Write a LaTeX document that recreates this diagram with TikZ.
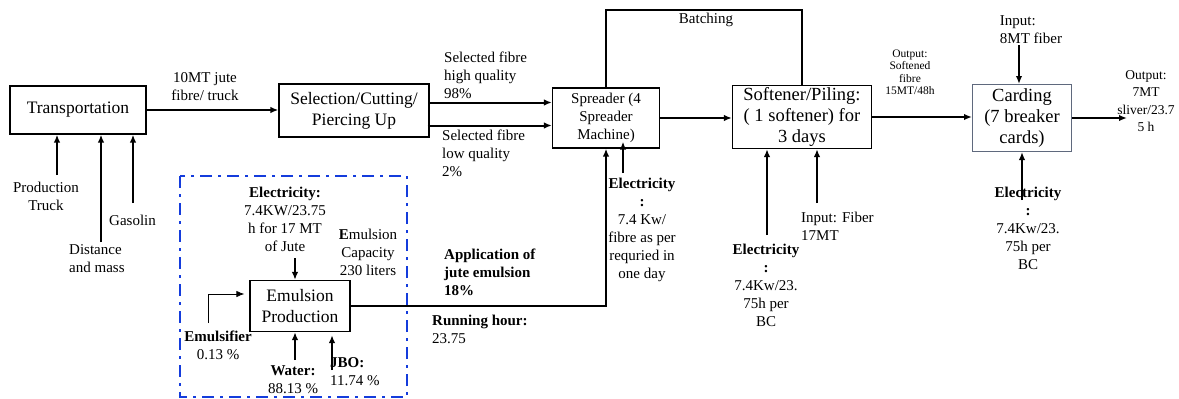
\documentclass[tikz,border=0pt]{standalone}
\usepackage{fontspec}
\setmainfont{Liberation Serif}
\usepackage{tikz}
\usetikzlibrary{arrows.meta, positioning, calc}

\definecolor{frameblue}{RGB}{20,60,220}
\definecolor{cardgray}{RGB}{95,105,125}

\begin{document}
\begin{tikzpicture}[
    x=1pt, y=-1pt,
    >={Latex[length=8pt,width=6.5pt]},
    box/.style={rectangle, draw, line width=1.3pt, align=center, inner sep=1pt, font=\fontsize{17.5}{21}\selectfont},
    note/.style={align=center, inner sep=0pt, font=\fontsize{15}{18}\selectfont},
    tinynote/.style={align=center, inner sep=0pt, font=\fontsize{11.5}{12.5}\selectfont},
    flow/.style={->, line width=2pt}
]
\useasboundingbox (0,0) rectangle (1179,399);

% Process chain
\node[box, minimum width=136pt, minimum height=48pt] (transport) at (78,110) {Transportation};
\node[box, minimum width=150pt, minimum height=53pt] (select) at (354,110.5) {Selection/Cutting/\\Piercing Up};
\node[box, minimum width=107pt, minimum height=60pt, font=\fontsize{15}{18}\selectfont] (spreader) at (606,118) {Spreader (4\\Spreader\\Machine)};
\node[box, minimum width=139pt, minimum height=63pt, font=\fontsize{18.5}{21}\selectfont] (softener) at (802,117) {Softener/Piling:\\( 1 softener) for\\3 days};
\node[box, draw=cardgray, line width=1pt, minimum width=99pt, minimum height=67pt, font=\fontsize{18.5}{21}\selectfont] (carding) at (1022,118) {Carding\\(7 breaker\\cards)};

\draw[flow] (transport.east) -- (transport.east -| select.west);
\node[note] (truckload) at (205,87) {10MT jute\\fibre/ truck};

\draw[flow] ([yshift=8pt]select.east) -- ([yshift=8pt]select.east -| spreader.west);
\draw[flow] ([xshift=-2pt,yshift=-15pt]select.east) -- ([yshift=-15pt]select.east -| spreader.west);
\node[note, align=left, anchor=west] (highq) at (444,75) {Selected fibre\\high quality\\98\%};
\node[note, align=left, anchor=west] (lowq) at (442,153) {Selected fibre\\low quality\\2\%};

\draw[flow] (spreader.east) -- (spreader.east -| softener.west);
\draw[line width=2pt] (spreader.north) -- (spreader.north |- 0,10) -| (softener.north);
\node[note] (batching) at (706,20) {Batching};

\draw[flow] (softener.east) -- (softener.east -| carding.west);
\node[tinynote] (softout) at (910,72) {Output:\\Softened\\fibre\\15MT/48h};

\coordinate (card_out) at (1127,118);
\draw[flow] (carding.east) -- (card_out);
\node[note, font=\fontsize{13.5}{17.5}\selectfont] (sliverout) at (1146,101) {Output:\\7MT\\sliver/23.7\\5 h};

% Inputs of the transport
\coordinate (truck_in) at (57,175);
\coordinate (dist_in) at (101,242);
\coordinate (gas_in) at (133,203);
\draw[flow] (truck_in) -- (truck_in |- transport.south);
\draw[flow] (dist_in) -- (dist_in |- transport.south);
\draw[flow] (gas_in) -- (gas_in |- transport.south);
\node[note] (truck) at (46,196) {Production\\Truck};
\node[note, align=left, anchor=west] (dist) at (69,259) {Distance\\and mass};
\node[note, anchor=west] (gas) at (109,220) {Gasolin};

% Inputs of spreader, softener and carding
\coordinate (spread_elec) at (623,173);
\draw[flow] (spread_elec) -- ([xshift=17pt,yshift=7pt]spreader.south);
\node[note] (spreadelec) at (642,230) {\textbf{Electricity}\\\textbf{:}\\7.4 Kw/\\fibre as per\\requried in\\one day};

\coordinate (soft_elec) at (767,235);
\coordinate (soft_in) at (817,203);
\draw[flow] (soft_elec) -- (soft_elec |- softener.south);
\draw[flow] (soft_in) -- (soft_in |- softener.south);
\node[note] (softelec) at (766,285) {\textbf{Electricity}\\\textbf{:}\\7.4Kw/23.\\75h per\\BC};
\node[note, align=left, anchor=west] (softfiber) at (801,226) {Input: Fiber\\17MT};

\coordinate (card_in) at (1019,45);
\coordinate (card_elec) at (1022,200);
\draw[flow] (card_in) -- (card_in |- carding.north);
\draw[flow] (card_elec) -- (card_elec |- carding.south);
\node[note, align=left] (cardfiber) at (1031,30) {Input:\\8MT fiber};
\node[note] (cardelec) at (1028,228) {\textbf{Electricity}\\\textbf{:}\\7.4Kw/23.\\75h per\\BC};

% Emulsion unit
\draw[frameblue, line width=2.6pt, dash pattern=on 12pt off 6pt on 3pt off 6pt] (180,176) rectangle (407,397);
\node[box, minimum width=100pt, minimum height=51pt] (emul) at (300,306) {Emulsion\\Production};

\draw[flow] (emul.east) -| (spreader.south);
\node[note, align=left, anchor=west] (apply) at (444,272) {\textbf{Application of}\\\textbf{jute emulsion}\\\textbf{18\%}};
\node[note, align=left, anchor=west] (runhour) at (432,329) {\textbf{Running hour:}\\23.75};

\coordinate (emul_elec) at (295,258);
\coordinate (emulsifier_in) at (208,323);
\coordinate (water_in) at (295,360);
\coordinate (jbo_in) at (332,370);
\draw[flow] (emul_elec) -- (emul_elec |- emul.north);
\draw[->, line width=0.8pt] (emulsifier_in) |- ([xshift=-5pt,yshift=12pt]emul.west);
\draw[flow] (water_in) -- (water_in |- emul.south);
\draw[flow] (jbo_in) -- ([xshift=32pt,yshift=-3pt]emul.south);

\node[note] (emulelec) at (285,219) {\textbf{Electricity:}\\7.4KW/23.75\\h for 17 MT\\of Jute};
\node[note] (capacity) at (368,252) {\textbf{E}mulsion\\Capacity\\230 liters};
\node[note] (emulsifier) at (218,345) {\textbf{Emulsifier}\\0.13 \%};
\node[note] (water) at (293,380) {\textbf{Water:}\\88.13 \%};
\node[note, align=left, anchor=west] (jbo) at (330,372) {\textbf{JBO:}\\11.74 \%};

\end{tikzpicture}
\end{document}
